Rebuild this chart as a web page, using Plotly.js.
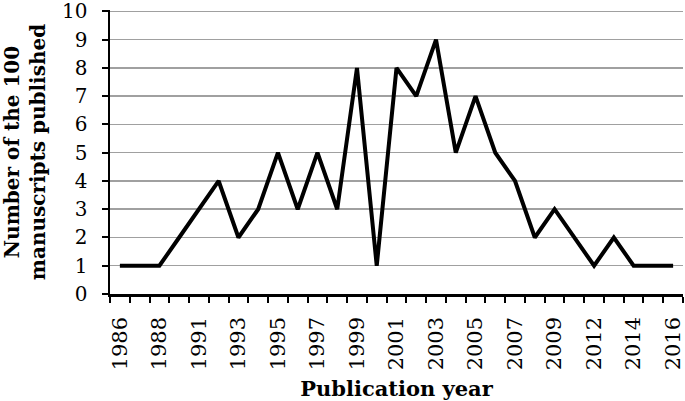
<!DOCTYPE html>
<html>
<head>
<meta charset="utf-8">
<script src="https://cdn.plot.ly/plotly-3.0.1.min.js"></script>
<style>
  html, body { margin: 0; padding: 0; background: #fff; }
  #chart { width: 685px; height: 401px; }
</style>
</head>
<body>
<div id="chart"></div>
<script>
// publication years (two years without papers are missing from the axis)
const years = ['1986', '1987', '1988', '1990', '1991', '1992', '1993', '1994', '1995', '1996',
    '1997', '1998', '1999', '2000', '2001', '2002', '2003', '2004', '2005', '2006',
    '2007', '2008', '2009', '2010', '2012', '2013', '2014', '2015', '2016'];
const counts = [1, 1, 1, 2, 3, 4, 2, 3, 5, 3,
    5, 3, 8, 1, 8, 7, 9, 5, 7, 5,
    4, 2, 3, 2, 1, 2, 1, 1, 1];
const yTicks = [0, 1, 2, 3, 4, 5, 6, 7, 8, 9, 10];
// every other year is labelled
const tickLabels = years.map((y, i) => i % 2 === 0 ? y : '');

const serif = 'DejaVu Serif, Liberation Serif, serif';

Plotly.newPlot('chart', [{
    x: years,
    y: counts,
    type: 'scatter',
    mode: 'lines',
    line: {color: '#000000', width: 4},
    hoverinfo: 'skip',
}], {
    width: 685,
    height: 401,
    margin: {l: 110, r: 2, t: 10, b: 107},
    paper_bgcolor: '#ffffff',
    plot_bgcolor: '#ffffff',
    showlegend: false,
    font: {family: serif, color: '#000000', size: 20},
    xaxis: {
        type: 'category',
        range: [-0.5, years.length - 0.5],
        tickmode: 'array',
        tickvals: years,
        ticktext: tickLabels,
        tickangle: -90,
        tickson: 'boundaries',
        ticks: 'outside',
        ticklen: 6,
        tickwidth: 2,
        tickcolor: '#000000',
        ticklabelstandoff: 12,
        showline: true,
        linecolor: '#000000',
        linewidth: 2.5,
        showgrid: false,
        zeroline: false,
        tickfont: {family: serif, size: 21},
        title: {text: '<b>Publication year</b>', font: {family: serif, size: 21}, standoff: 12},
    },
    yaxis: {
        range: [0, 10.05],
        tickmode: 'array',
        tickvals: yTicks,
        ticks: 'outside',
        ticklen: 6,
        tickwidth: 2,
        tickcolor: '#000000',
        ticklabelstandoff: 10,
        ticklabeloverflow: 'allow',
        showline: true,
        linecolor: '#000000',
        linewidth: 2.5,
        showgrid: true,
        gridcolor: '#a0a0a0',
        gridwidth: 1.5,
        zeroline: false,
        tickfont: {family: serif, size: 20},
        title: {text: '<b>Number of the 100<br>manuscripts published</b>', font: {family: serif, size: 20}, standoff: 22},
    },
}, {staticPlot: true, displayModeBar: false});
</script>
</body>
</html>
